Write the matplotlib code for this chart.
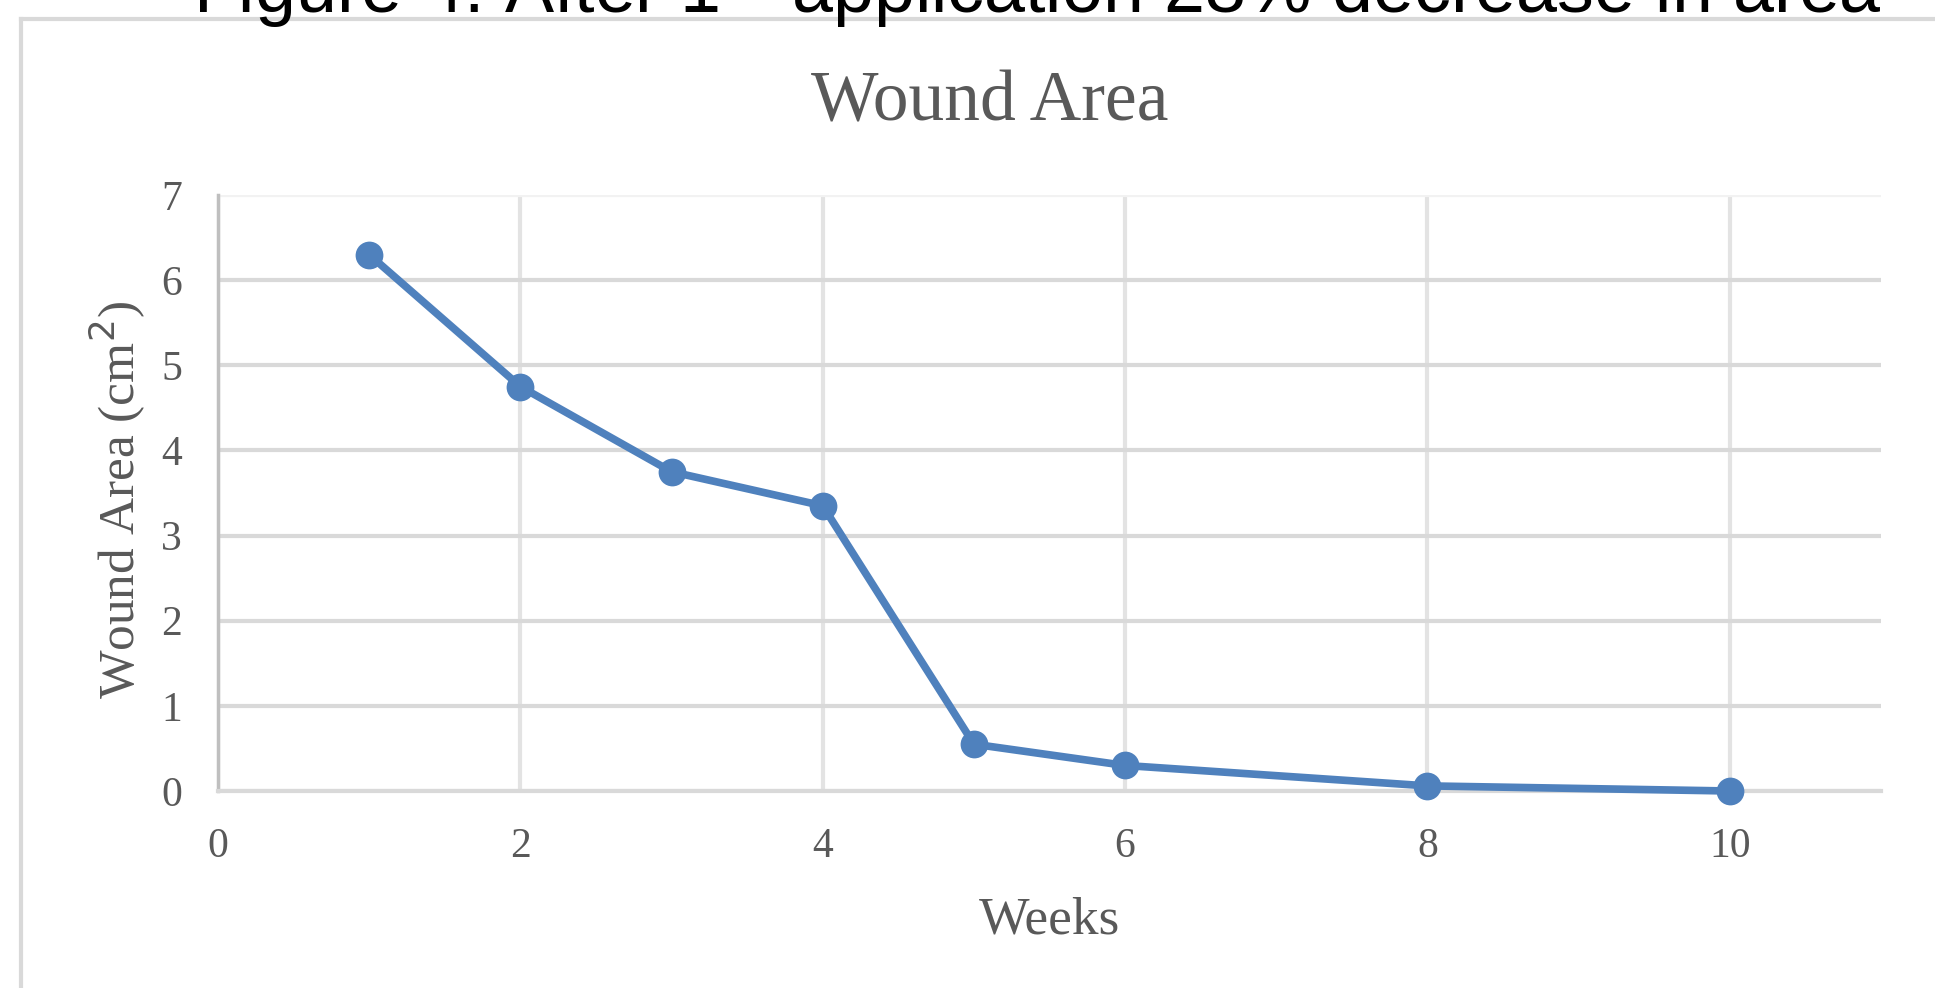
import numpy as np
import matplotlib
matplotlib.use('Agg')
import matplotlib.pyplot as plt
from matplotlib.lines import Line2D

# dados da curva (semanas x area da ferida em cm2)
semanas = [1, 2, 3, 4, 5, 6, 8, 10]
area = [6.3, 4.75, 3.75, 3.35, 0.55, 0.3, 0.06, 0.0]
x_ticks = [0, 2, 4, 6, 8, 10]
y_ticks = [0, 1, 2, 3, 4, 5, 6, 7]

W, H = 1935, 988
fig = plt.figure(figsize=(W / 100, H / 100), dpi=100)

serif = 'Liberation Serif'
cinza = '#595959'
azul = '#4f81bd'

# legenda da figura (cortada no topo)
fig.text(193 / W, 1 - 13 / H, r'Figure 4: After 1$^{\mathrm{st}}$ application 23% decrease in area',
         family='Liberation Sans', fontsize=53, color='black', ha='left', va='baseline')

# moldura do grafico
fig.add_artist(Line2D([21 / W, 1.0], [1 - 19 / H, 1 - 19 / H], transform=fig.transFigure,
                      color='#d9d9d9', linewidth=3))
fig.add_artist(Line2D([21 / W, 21 / W], [0.0, 1 - 19 / H], transform=fig.transFigure,
                      color='#d9d9d9', linewidth=3))

ax = fig.add_axes([218 / W, 1 - 791 / H, 1663 / W, 596 / H])
ax.plot(semanas, area, color=azul, linewidth=5.5, marker='o', markersize=20,
        markeredgewidth=0, clip_on=False, zorder=5)

ax.set_xlim(0, 11)
ax.set_ylim(0, 7)
ax.set_xticks(x_ticks)
ax.set_yticks(y_ticks)
ax.tick_params(length=0, labelsize=30, colors=cinza, pad=26)
for lab in ax.get_xticklabels() + ax.get_yticklabels():
    lab.set_family(serif)

ax.grid(True, color='#d9d9d9', linewidth=3)
ax.yaxis.get_gridlines()[-1].set_color('#f2f2f2')
for gl in ax.xaxis.get_gridlines():
    gl.set_color('#e3e3e3')
ax.set_axisbelow(True)

for s in ['top', 'right']:
    ax.spines[s].set_visible(False)
ax.spines['left'].set_color('#bfbfbf')
ax.spines['left'].set_linewidth(2.5)
ax.spines['bottom'].set_color('#d9d9d9')
ax.spines['bottom'].set_linewidth(3)

ax.set_xlabel('Weeks', family=serif, fontsize=38.5, color=cinza, va='center')
ax.xaxis.set_label_coords(0.5, (791 - 921) / 596)
ax.set_ylabel(r'Wound Area (cm$^2$)', family=serif, fontsize=37, color=cinza, va='center')
ax.yaxis.set_label_coords((117 - 218) / 1663, (791 - 500) / 596)

fig.text(990 / W, 1 - 121 / H, 'Wound Area', family=serif, fontsize=51.5, color=cinza,
         ha='center', va='baseline')

fig.savefig('out.png', dpi=100)
